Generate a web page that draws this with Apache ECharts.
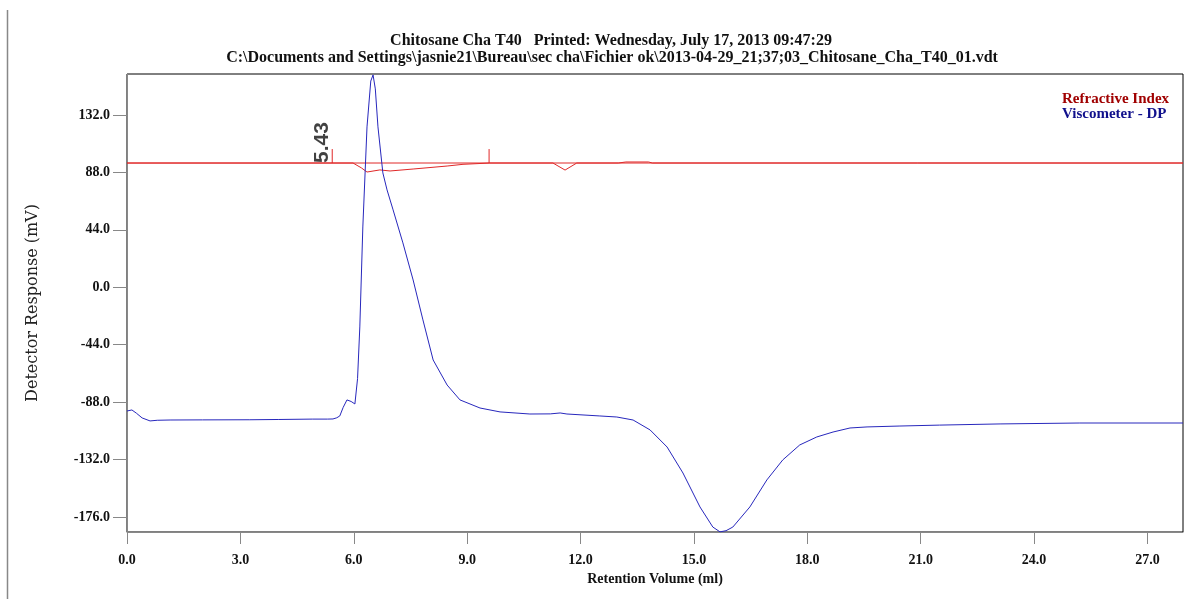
<!DOCTYPE html>
<html><head><meta charset="utf-8">
<script src="https://cdn.jsdelivr.net/npm/echarts@6/dist/echarts.min.js"></script>
<style>html,body{margin:0;padding:0;background:#fff}#c{width:1200px;height:599px}</style>
</head><body><div id="c"></div>
<script>
const titleLines = [
  'Chitosane Cha T40   Printed: Wednesday, July 17, 2013 09:47:29',
  'C:\\Documents and Settings\\jasnie21\\Bureau\\sec cha\\Fichier ok\\2013-04-29_21;37;03_Chitosane_Cha_T40_01.vdt'
];
const seriesNames = ['Refractive Index', 'Viscometer - DP'];
const xTickValues = [0, 3, 6, 9, 12, 15, 18, 21, 24, 27];
const yTickValues = [-176, -132, -88, -44, 0, 44, 88, 132];
const xRange = [0, 27.94];
const yRange = [-187.5, 163.4];

const viscometerDP = [
  [0,-94.8],[0.13,-94.0],[0.25,-96.5],[0.4,-100.1],[0.61,-102.4],[0.8,-101.9],[1.14,-101.7],[2.0,-101.6],
  [3.25,-101.5],[4.0,-101.3],[4.9,-101.0],[5.3,-101.0],[5.45,-100.9],[5.55,-100.0],[5.63,-98.6],[5.72,-92.0],
  [5.82,-86.3],[5.93,-87.5],[6.03,-89.4],[6.1,-70.0],[6.16,-30.4],[6.24,46.2],[6.35,122.9],[6.45,158.0],
  [6.51,162.7],[6.57,152.0],[6.64,122.9],[6.77,87.6],[6.88,74.6],[7.04,59.3],[7.30,34.0],[7.57,5.6],
  [7.83,-25.0],[8.10,-55.7],[8.47,-74.9],[8.81,-86.3],[9.34,-92.5],[9.87,-95.5],[10.66,-97.1],[11.2,-97.0],
  [11.46,-96.3],[11.64,-97.1],[12.51,-98.6],[12.96,-99.4],[13.39,-101.7],[13.84,-109.3],[14.29,-122.4],
  [14.71,-142.3],[15.16,-168.3],[15.50,-183.7],[15.69,-187.4],[15.85,-186.5],[16.03,-183.7],[16.48,-168.3],
  [16.93,-147.6],[17.35,-132.3],[17.80,-120.8],[18.25,-114.7],[18.68,-110.9],[19.13,-107.8],[19.58,-107.0],
  [20.45,-106.3],[21.5,-105.6],[23.10,-104.7],[25.21,-104.0],[27.94,-104.0]
];
const refractiveIndex = [
  [0,95.2],[5.98,95.2],[6.2,91.5],[6.35,88.3],[6.69,89.9],[6.96,89.1],[7.57,90.6],[8.47,92.9],[8.89,94.2],
  [9.6,95.2],[11.27,95.2],[11.59,89.8],[11.9,95.2],[13.0,95.2],[13.2,96.0],[13.8,96.0],[13.9,95.2],[27.94,95.2]
];
const riBaseline = [[0,95.2],[27.94,95.2]];
const markerPositions = [5.43, 9.58];
const markerLabels = ['5.43', ''];
const markerBottom = 95.2;
const markerTop = 105.9;

// tick segments for markers (broken with '-')
const markerSegments = [];
markerPositions.forEach(x => { markerSegments.push([x, markerBottom], [x, markerTop], [x, '-']); });

const serif = '"Liberation Serif", "Times New Roman", serif';
const chart = echarts.init(document.getElementById('c'), null, {renderer: 'canvas'});
chart.setOption({
  animation: false,
  backgroundColor: '#fff',
  graphic: [
    {type: 'text', x: 611, y: 33, style: {text: titleLines[0], align: 'center', verticalAlign: 'top', fontFamily: serif, fontWeight: 'bold', fontSize: 16, fill: '#111'}},
    {type: 'text', x: 612, y: 50, style: {text: titleLines[1], align: 'center', verticalAlign: 'top', fontFamily: serif, fontWeight: 'bold', fontSize: 16, fill: '#111'}},
    {type: 'line', shape: {x1: 7.5, y1: 10, x2: 7.5, y2: 599}, style: {stroke: '#888', lineWidth: 1.5}}
  ],
  legend: {
    orient: 'vertical', left: 1052, top: 87, itemGap: 0, itemWidth: 0, itemHeight: 0, icon: 'none',
    selectedMode: false,
    data: [
      {name: seriesNames[0], textStyle: {color: '#a00000'}},
      {name: seriesNames[1], textStyle: {color: '#10108c'}}
    ],
    textStyle: {fontFamily: serif, fontWeight: 'bold', fontSize: 15}
  },
  grid: {left: 127, right: 17, top: 74, bottom: 67, show: true, borderColor: '#000', borderWidth: 1, backgroundColor: 'transparent'},
  xAxis: {
    type: 'value', min: xRange[0], max: xRange[1],
    name: 'Retention Volume (ml)', nameLocation: 'middle', nameGap: 40,
    nameTextStyle: {fontFamily: serif, fontWeight: 'bold', fontSize: 14, color: '#111'},
    axisLine: {show: true, onZero: false, lineStyle: {color: '#888', width: 1}},
    axisTick: {show: true, length: 12, customValues: xTickValues, lineStyle: {color: '#888'}},
    axisLabel: {customValues: xTickValues, formatter: v => v.toFixed(1), margin: 21, fontFamily: serif, fontWeight: 'bold', fontSize: 14, color: '#111'},
    splitLine: {show: false}
  },
  yAxis: {
    type: 'value', min: yRange[0], max: yRange[1],
    name: 'Detector Response (mV)', nameLocation: 'middle', nameGap: 86, nameRotate: 90,
    nameTextStyle: {fontFamily: '"DejaVu Serif", serif', fontSize: 16, color: '#222'},
    axisLine: {show: true, onZero: false, lineStyle: {color: '#888', width: 1}},
    axisTick: {show: true, length: 14, customValues: yTickValues, lineStyle: {color: '#888'}},
    axisLabel: {customValues: yTickValues, formatter: v => v.toFixed(1), margin: 17, fontFamily: serif, fontWeight: 'bold', fontSize: 14, color: '#111'},
    splitLine: {show: false}
  },
  series: [
    {
      name: 'RI baseline', type: 'line', data: riBaseline, symbol: 'none', silent: true,
      lineStyle: {color: '#e02828', width: 1}, z: 2
    },
    {
      name: 'RI markers', type: 'line', data: markerSegments, symbol: 'none', silent: true,
      connectNulls: false, lineStyle: {color: '#e02828', width: 1}, z: 2
    },
    {
      name: seriesNames[0], type: 'line', data: refractiveIndex, symbol: 'none',
      itemStyle: {color: '#e02828'}, lineStyle: {color: '#e02828', width: 1}, z: 3
    },
    {
      name: seriesNames[1], type: 'line', data: viscometerDP, symbol: 'none',
      itemStyle: {color: '#2727bc'}, lineStyle: {color: '#2727bc', width: 1}, z: 4
    },
    {
      name: 'marker labels', type: 'scatter', symbolSize: 0, silent: true, z: 5,
      data: markerPositions.map((x, i) => ({value: [x, markerBottom], name: markerLabels[i]})),
      label: {
        show: true, formatter: p => p.name, rotate: 90, position: [-10, 0],
        align: 'left', verticalAlign: 'middle',
        fontFamily: '"Liberation Sans", Arial, sans-serif', fontWeight: 'bold', fontSize: 21, color: '#111'
      }
    }
  ]
});
</script>
</body></html>
